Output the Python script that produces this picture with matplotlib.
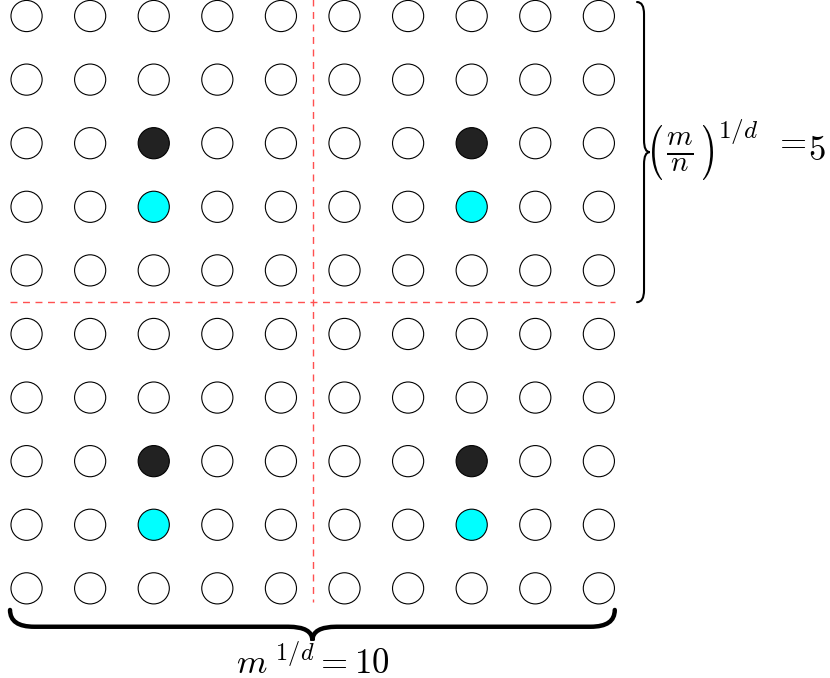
import numpy as np
import matplotlib.pyplot as plt
from matplotlib.patches import Circle, PathPatch
from matplotlib.path import Path
from matplotlib.textpath import TextPath
from matplotlib.transforms import Affine2D

plt.rcParams['mathtext.fontset'] = 'cm'

# grid of points (m = 100 points, d = 2, n = 4 blocks)
n_cols = 10
n_rows = 10
black_cols = [2, 7, 2, 7]
black_rows = [2, 2, 7, 7]
cyan_cols = [2, 7, 2, 7]
cyan_rows = [3, 3, 8, 8]
split = 4.5

label_bottom = r'$m^{\ 1/d} = 10$'

W, H = 830, 678


def brace_path(a, b, base, depth, vertical=False):
    # curly brace from a to b, ends at `base`, tip pushed out by `depth`
    mid = (a + b) / 2
    span = b - a
    w = 0.08 * span / 2
    half = base + depth * 0.55
    pts = [
        (a, base),
        (a, half), (a + w, half),
        (mid - w, half),
        (mid, half), (mid, base + depth),
        (mid, half), (mid + w, half),
        (b - w, half),
        (b, half), (b, base),
    ]
    codes = [Path.MOVETO,
             Path.CURVE3, Path.CURVE3,
             Path.LINETO,
             Path.CURVE3, Path.CURVE3,
             Path.CURVE3, Path.CURVE3,
             Path.LINETO,
             Path.CURVE3, Path.CURVE3]
    if vertical:
        pts = [(p[1], p[0]) for p in pts]
    return Path(pts, codes)


def glyph_box(s, left, top, right, bottom):
    # glyph outline stretched into a pixel box (top-left origin)
    tp = TextPath((0, 0), s, size=40)
    ext = tp.get_extents()
    sx = (right - left) / ext.width
    sy = (bottom - top) / ext.height
    tr = (Affine2D().translate(-ext.x0, -ext.y0).scale(sx, sy)
          .translate(left, H - bottom))
    return PathPatch(tr.transform_path(tp), facecolor='black', edgecolor='none',
                     transform=None)


fig = plt.figure(figsize=(W / 100, H / 100), dpi=100)
ax = fig.add_axes([0, 0, 1, 1])
ax.set_xlim(-0.417, 12.634)
ax.set_ylim(10.41, -0.252)
ax.set_aspect('equal')
ax.axis('off')

fills = {}
for c, r in zip(black_cols, black_rows):
    fills[(c, r)] = '#222222'
for c, r in zip(cyan_cols, cyan_rows):
    fills[(c, r)] = '#00ffff'

for r in range(n_rows):
    for c in range(n_cols):
        ax.add_patch(Circle((c, r), 0.245, facecolor=fills.get((c, r), 'white'),
                            edgecolor='black', linewidth=0.8, zorder=3))

# block separators
dash = dict(color='#ff5050', linewidth=1.0, linestyle=(0, (5, 4)), zorder=1)
ax.plot([split, split], [-0.26, 9.22], **dash)
ax.plot([-0.26, 9.25], [split, split], **dash)

# braces
ax.add_patch(PathPatch(brace_path(-0.22, 4.5, 9.6, 0.2, vertical=True),
                       facecolor='none', edgecolor='black', linewidth=1.5,
                       capstyle='round'))
ax.add_patch(PathPatch(brace_path(-0.26, 9.25, 9.34, 0.48),
                       facecolor='none', edgecolor='black', linewidth=3.2,
                       capstyle='round'))

# (m/n)^{1/d} = 5 next to the right brace
fig.add_artist(glyph_box(r'$($', 652, 125, 662, 180))
fig.add_artist(glyph_box(r'$)$', 703, 125, 713, 180))
ax.text(10.28, 2.14, r'$\frac{m}{n}$', fontsize=30, ha='center', va='center')
ax.text(10.87, 1.92, r'$1/d$', fontsize=18, ha='left', va='baseline')
ax.text(12.0, 2.12, r'$=$', fontsize=25, ha='center', va='baseline')
ax.text(12.43, 2.26, r'$5$', fontsize=25, ha='center', va='baseline')

ax.text(4.5, 10.35, label_bottom, fontsize=25, ha='center', va='baseline')

fig.savefig('out.png', dpi=100)
